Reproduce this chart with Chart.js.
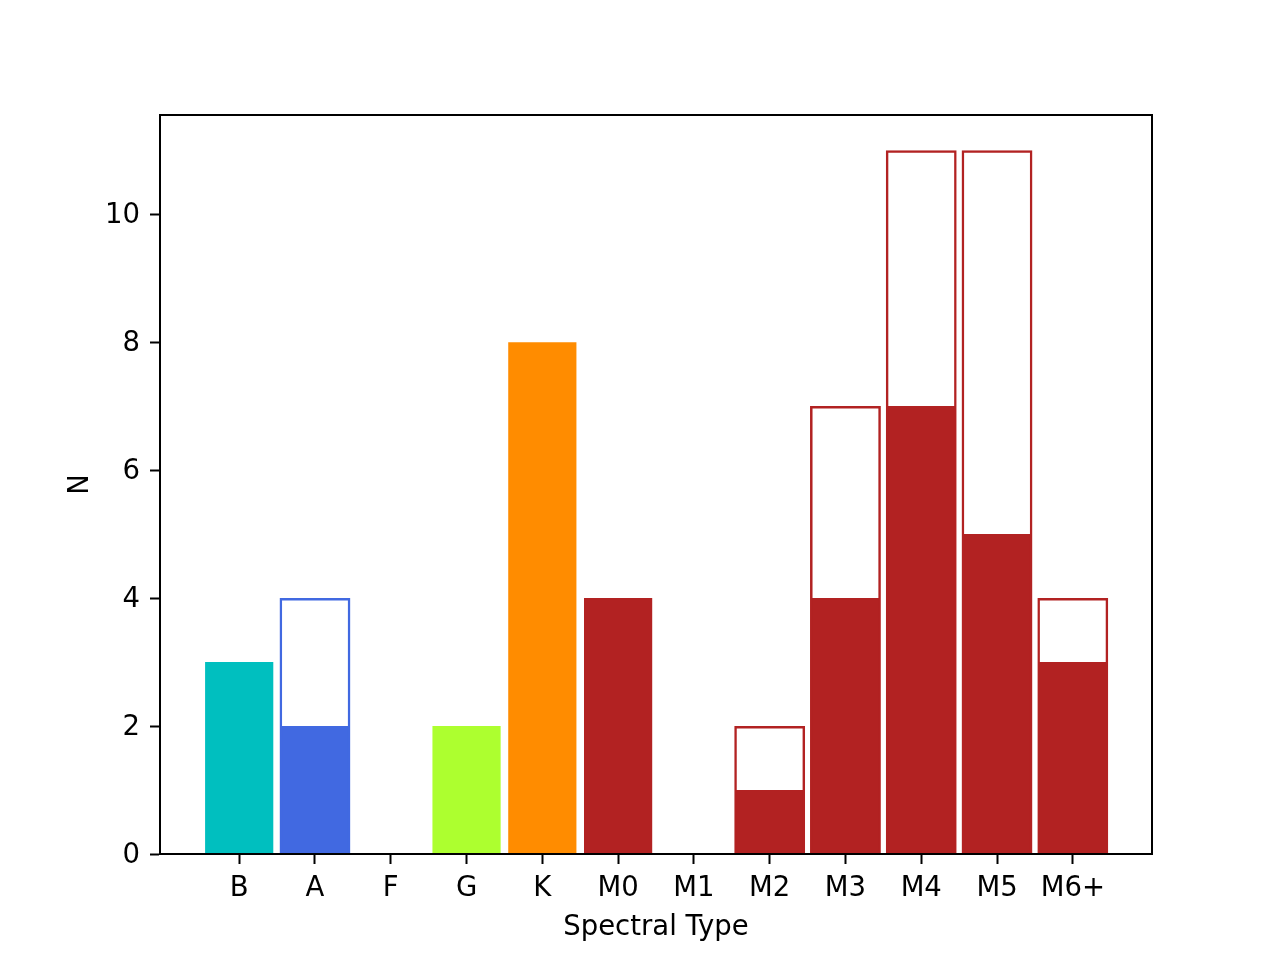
<!DOCTYPE html>
<html>
<head>
<meta charset="utf-8">
<script src="https://cdn.jsdelivr.net/npm/chart.js@4"></script>
<style>
  html, body { margin: 0; padding: 0; background: #fff; }
</style>
</head>
<body>
<canvas id="spectralChart" width="1280" height="960"></canvas>
<script>
const categories = ["B", "A", "F", "G", "K", "M0", "M1", "M2", "M3", "M4", "M5", "M6+"];
const filledCounts = [3, 2, 0, 2, 8, 4, 0, 1, 4, 7, 5, 3];
const totalCounts = [null, 4, null, null, null, null, null, 2, 7, 11, 11, 4];
const barColors = ["#00BFBF", "#4169E1", "#4169E1", "#ADFF2F", "#FF8C00", "#B22222",
    "#B22222", "#B22222", "#B22222", "#B22222", "#B22222", "#B22222"];
const yTicks = [0, 2, 4, 6, 8, 10];

const FONT = "'DejaVu Sans', sans-serif";
const FS = 27.5;

const toPoints = (arr) => arr.map((v, i) => ({ x: i, y: v }));

// matplotlib-style box around the axes
const frame = {
    id: "frame",
    afterDraw(chart) {
        const { ctx, chartArea } = chart;
        ctx.save();
        ctx.strokeStyle = "#000";
        ctx.lineWidth = 2;
        ctx.strokeRect(chartArea.left, chartArea.top,
            chartArea.right - chartArea.left, chartArea.bottom - chartArea.top);
        ctx.restore();
    },
};

const ctx = document.getElementById("spectralChart").getContext("2d");
new Chart(ctx, {
    type: "bar",
    data: {
        datasets: [
            {
                label: "total",
                data: toPoints(totalCounts),
                backgroundColor: "rgba(0,0,0,0)",
                borderColor: barColors,
                borderWidth: 2.5,
                borderSkipped: false,
                grouped: false,
                order: 0,
                barPercentage: 0.935,
                categoryPercentage: 1,
            },
            {
                label: "filled",
                data: toPoints(filledCounts),
                backgroundColor: barColors,
                borderWidth: 0,
                grouped: false,
                order: 1,
                barPercentage: 0.9,
                categoryPercentage: 1,
            },
        ],
    },
    options: {
        responsive: false,
        animation: false,
        devicePixelRatio: 1,
        layout: { padding: { top: 115, right: 128, bottom: 0, left: 0 } },
        plugins: {
            legend: { display: false },
            tooltip: { enabled: false },
        },
        scales: {
            x: {
                type: "linear",
                offset: false,
                min: -1.045,
                max: 12.045,
                afterBuildTicks: (axis) => {
                    axis.ticks = categories.map((c, i) => ({ value: i }));
                },
                afterFit: (scale) => { scale.height = 106; },
                ticks: {
                    callback: (value) => categories[value],
                    color: "#000",
                    font: { family: FONT, size: FS },
                    padding: 8,
                    maxRotation: 0,
                    autoSkip: false,
                },
                grid: {
                    display: true,
                    offset: false,
                    drawOnChartArea: false,
                    drawTicks: true,
                    tickLength: 10,
                    tickWidth: 2,
                    tickColor: "#000",
                },
                border: { display: true, color: "#000", width: 2 },
                title: {
                    display: true,
                    text: "Spectral Type",
                    color: "#000",
                    font: { family: FONT, size: FS },
                    padding: { top: 0, bottom: 16 },
                },
            },
            y: {
                min: 0,
                max: 11.55,
                afterBuildTicks: (axis) => {
                    axis.ticks = yTicks.map((v) => ({ value: v }));
                },
                afterFit: (scale) => { scale.width = 160; },
                ticks: {
                    color: "#000",
                    font: { family: FONT, size: FS },
                    padding: 10,
                    labelOffset: 2,
                },
                grid: {
                    display: true,
                    drawOnChartArea: false,
                    drawTicks: true,
                    tickLength: 10,
                    tickWidth: 2,
                    tickColor: "#000",
                },
                border: { display: true, color: "#000", width: 2 },
                title: {
                    display: true,
                    text: "N",
                    color: "#000",
                    font: { family: FONT, size: FS },
                    padding: { top: 64, bottom: 0 },
                },
            },
        },
    },
    plugins: [frame],
});
</script>
</body>
</html>
